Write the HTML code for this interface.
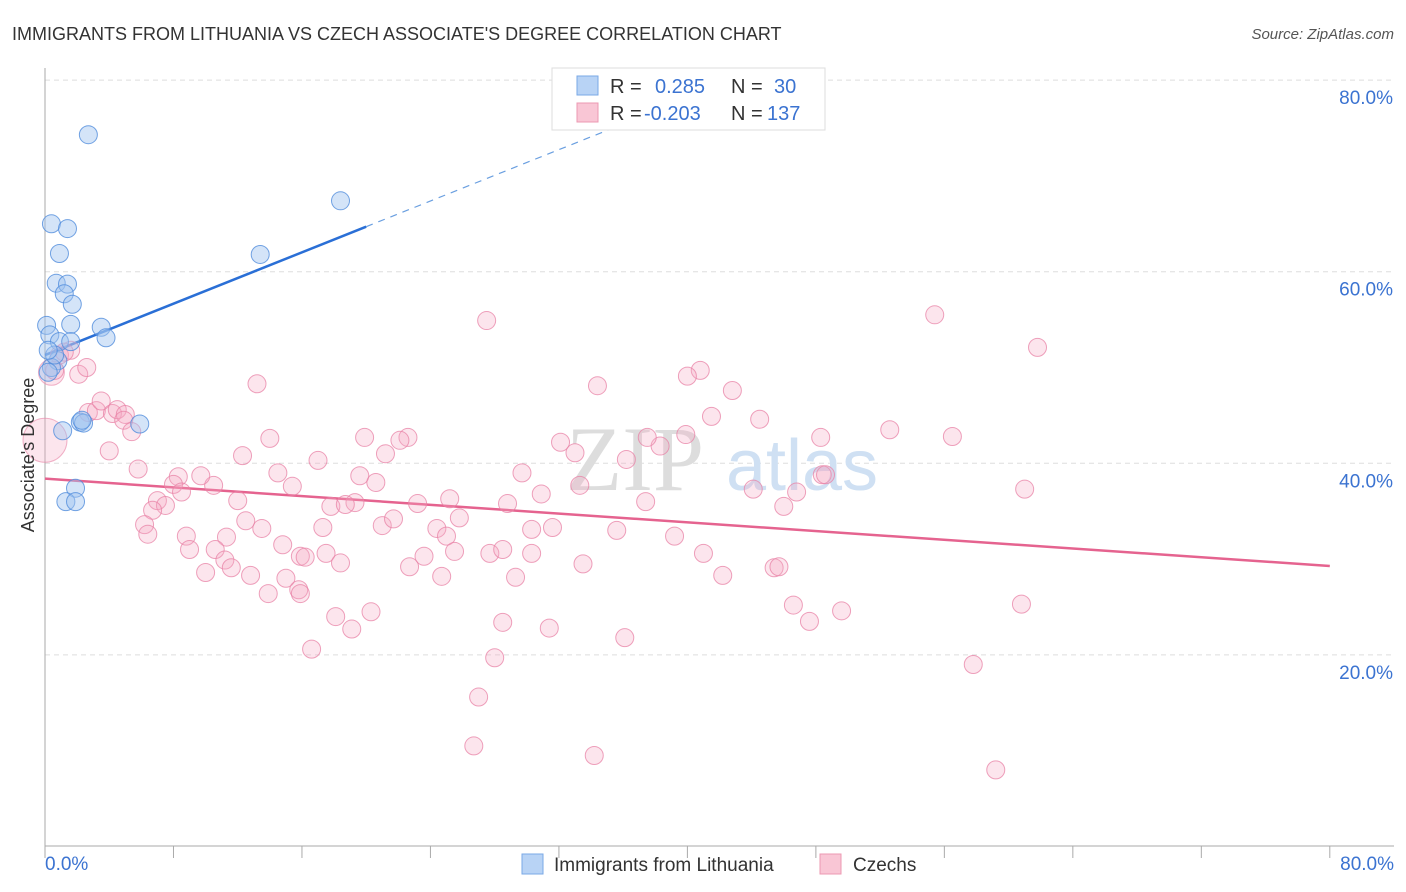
<!DOCTYPE html>
<html><head><meta charset="utf-8"><style>
body{margin:0;background:#fff;font-family:"Liberation Sans",sans-serif}
</style></head><body>
<svg width="1406" height="892" style="display:block">
<text x="12" y="40" font-size="18" fill="#333">IMMIGRANTS FROM LITHUANIA VS CZECH ASSOCIATE'S DEGREE CORRELATION CHART</text>
<text x="1394" y="39" font-size="15" fill="#555" font-style="italic" text-anchor="end">Source: ZipAtlas.com</text>
<g id="grid"></g>
<g>
<text x="635" y="490" font-size="92" font-family="Liberation Serif,serif" fill="#ddd" text-anchor="middle">ZIP</text>
<text x="802" y="490" font-size="72" fill="#cfe0f3" text-anchor="middle">atlas</text>
</g>
<g id="lines"></g>
<g id="pts"></g>
<text transform="translate(34,455) rotate(-90)" font-size="18" fill="#333" text-anchor="middle">Associate's Degree</text>
<g>
<rect x="552" y="68" width="273" height="62" fill="#fff" stroke="#ddd"/>
<rect x="577" y="76" width="21" height="19" fill="#b8d3f5" stroke="#7aa8e6"/>
<rect x="577" y="103" width="21" height="19" fill="#f9c6d5" stroke="#ec98b2"/>
<text x="610" y="93" font-size="20" fill="#333">R =</text>
<text x="655" y="93" font-size="20" fill="#3b73d1">0.285</text>
<text x="731" y="93" font-size="20" fill="#333">N =</text>
<text x="774" y="93" font-size="20" fill="#3b73d1">30</text>
<text x="610" y="120" font-size="20" fill="#333">R =</text>
<text x="644" y="120" font-size="20" fill="#3b73d1">-0.203</text>
<text x="731" y="120" font-size="20" fill="#333">N =</text>
<text x="767" y="120" font-size="20" fill="#3b73d1">137</text>
</g>
<g>
<rect x="522" y="854" width="21" height="20" fill="#b8d3f5" stroke="#7aa8e6"/>
<text x="554" y="871" font-size="19" fill="#333">Immigrants from Lithuania</text>
<rect x="820" y="854" width="21" height="20" fill="#f9c6d5" stroke="#ec98b2"/>
<text x="853" y="871" font-size="19" fill="#333">Czechs</text>
</g>
</svg>
<script>
const yTicks=[20,40,60,80];
const yTickLabels=["20.0%","40.0%","60.0%","80.0%"];
const xTicks=[0,8,16,24,32,40,48,56,64,72,80];
const xEndLabels=["0.0%","80.0%"];
const blueX=[2.7,0.4,1.4,0.9,0.7,1.4,1.2,1.7,0.1,1.6,3.5,0.3,3.8,0.9,1.6,0.8,0.4,0.2,2.2,2.4,5.9,1.1,1.9,1.3,1.9,18.4,13.4,0.6,0.2,2.3];
const blueY=[74.3,65.0,64.5,61.9,58.8,58.7,57.7,56.6,54.4,54.5,54.2,53.4,53.1,52.7,52.7,50.7,50.0,49.5,44.3,44.2,44.1,43.4,37.4,36.0,36.0,67.4,61.8,51.3,51.8,44.5];
const pinkX=[27.5,55.4,61.8,34.4,40.8,40.0,42.8,13.2,41.5,44.5,52.6,56.5,48.3,39.9,38.3,37.5,32.1,33.0,36.2,22.6,19.9,22.1,14.0,21.2,12.3,17.0,5.8,4.0,29.7,33.3,30.9,37.4,44.1,46.8,48.4,48.6,46.0,61.0,19.6,20.6,14.5,15.4,10.5,9.7,8.3,8.0,8.5,7.0,7.5,6.7,12.0,17.8,19.3,18.7,23.2,25.2,28.8,25.8,24.4,25.0,21.0,21.7,17.3,13.5,12.5,6.2,6.4,11.3,8.8,39.2,35.6,31.6,30.3,15.9,14.8,17.5,23.6,25.5,27.7,28.5,30.3,33.5,41.0,9.0,10.6,11.2,11.6,10.0,12.8,15.0,16.2,18.4,22.7,24.7,29.3,42.2,45.4,45.7,13.9,15.8,15.9,18.1,20.3,19.1,28.5,31.4,36.1,46.6,47.6,49.6,60.8,16.6,28.0,27.0,57.8,26.7,34.2,59.2,0.9,1.6,2.1,2.6,2.7,3.2,3.5,4.2,4.5,5.0,4.9,5.4,1.2,0.6];
const pinkY=[54.9,55.5,52.1,48.1,49.7,49.1,47.6,48.3,44.9,44.6,43.5,42.8,42.7,43.0,41.8,42.7,42.2,41.1,40.4,42.7,42.7,42.4,42.6,41.0,40.8,40.3,39.4,41.3,39.0,37.7,36.8,36.0,37.3,37.0,38.8,38.8,35.5,37.3,38.7,38.0,39.0,37.6,37.7,38.7,38.6,37.8,37.0,36.1,35.6,35.1,36.1,35.5,35.9,35.7,35.8,36.3,35.8,34.3,33.2,32.4,33.5,34.2,33.3,33.2,34.0,33.6,32.6,32.3,32.4,32.4,33.0,33.3,33.1,30.3,31.5,30.6,30.3,30.8,30.6,31.0,30.6,29.5,30.6,31.0,31.0,29.9,29.1,28.6,28.3,28.0,30.2,29.6,29.2,28.2,28.1,28.3,29.1,29.2,26.4,26.8,26.4,24.0,24.5,22.7,23.4,22.8,21.8,25.2,23.5,24.6,25.3,20.6,19.7,15.6,19.0,10.5,9.5,8.0,51.3,51.8,49.3,50.0,45.3,45.5,46.5,45.2,45.6,45.1,44.5,43.3,51.6,49.7];
const bigPinkX=[0.0,0.4];
const bigPinkY=[42.4,49.5];
const bigPinkR=[22,13];
const blueFit=[51.3,0.67];   // intercept, slope
const blueSolidEnd=20, blueDashEnd=42.8;
const pinkFit=[38.4,-0.114];
const NS='http://www.w3.org/2000/svg';
const sx=v=>45+v*16.06, sy=v=>846.5-v*9.58;
function mk(tag,attrs,parent){const e=document.createElementNS(NS,tag);for(const k in attrs)e.setAttribute(k,attrs[k]);parent.appendChild(e);return e;}
const grid=document.getElementById('grid');
yTicks.forEach((t,i)=>{
 const l=mk('line',{x1:45,x2:1394,y1:sy(t),y2:sy(t),stroke:'#ddd','stroke-dasharray':'5,4'},grid);
 
 
 const tx=mk('text',{x:1393,y:sy(t)+24,'font-size':19,fill:'#3b73d1','text-anchor':'end'},grid);
 tx.textContent=yTickLabels[i];
 
 
});
const ax=mk('line',{x1:45,x2:45,y1:68,y2:846,stroke:'#aaa'},grid);


const bx=mk('line',{x1:45,x2:1394,y1:846,y2:846,stroke:'#aaa'},grid);


xTicks.forEach(t=>{const l=mk('line',{x1:sx(t),x2:sx(t),y1:846,y2:858,stroke:'#aaa'},grid);
 
 });
[[0,'start',45],[80,'end',1394]].forEach((d,i)=>{const tx=mk('text',{x:d[2],y:870,'font-size':19,fill:'#3b73d1','text-anchor':d[1]},grid);tx.textContent=xEndLabels[i];
 
 });
const pts=document.getElementById('pts');
bigPinkX.forEach((x,i)=>{const c=mk('circle',{cx:sx(x),cy:sy(bigPinkY[i]),r:bigPinkR[i],fill:'rgba(244,170,195,0.3)',stroke:'rgba(232,130,165,0.6)'},pts);
 
 });
pinkX.forEach((x,i)=>{const c=mk('circle',{cx:sx(x),cy:sy(pinkY[i]),r:9,fill:'rgba(244,170,195,0.3)',stroke:'rgba(232,130,165,0.75)'},pts);
 
 });
blueX.forEach((x,i)=>{const c=mk('circle',{cx:sx(x),cy:sy(blueY[i]),r:9,fill:'rgba(160,196,240,0.45)',stroke:'rgba(80,140,220,0.8)'},pts);
 
 });
const lines=document.getElementById('lines');
const f=(fit,x)=>fit[0]+fit[1]*x;
const bl=mk('line',{x1:sx(0),y1:sy(f(blueFit,0)),x2:sx(blueSolidEnd),y2:sy(f(blueFit,blueSolidEnd)),stroke:'#2a6fd6','stroke-width':2.5},lines);


const bd=mk('line',{x1:sx(blueSolidEnd),y1:sy(f(blueFit,blueSolidEnd)),x2:sx(blueDashEnd),y2:sy(f(blueFit,blueDashEnd)),stroke:'#6a9fe0','stroke-width':1.2,'stroke-dasharray':'7,6'},lines);


const pl=mk('line',{x1:sx(0),y1:sy(f(pinkFit,0)),x2:sx(80),y2:sy(f(pinkFit,80)),stroke:'#e5638f','stroke-width':2.5},lines);


</script>
</body></html>
